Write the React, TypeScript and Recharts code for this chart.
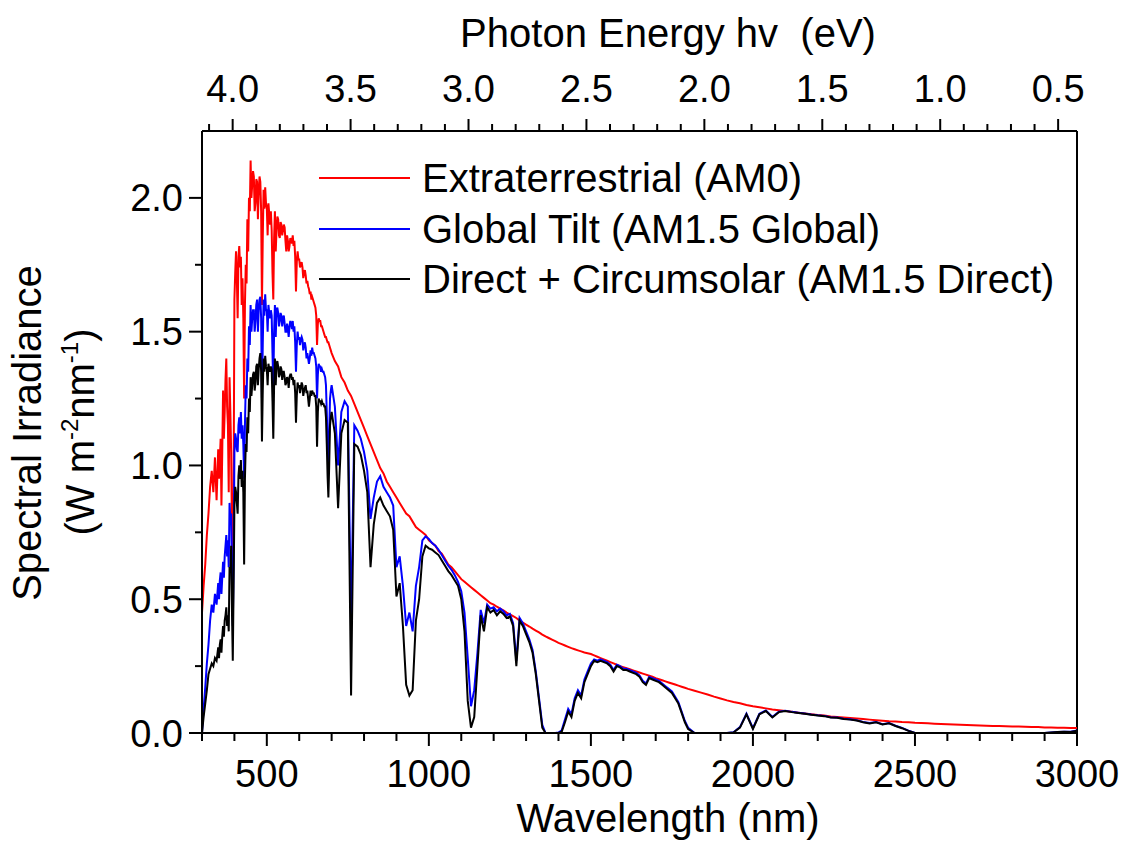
import { Legend, Line, LineChart, ReferenceLine, XAxis, YAxis } from 'recharts'

const FONT = "'Liberation Sans', Arial, Helvetica, sans-serif"

// wavelength grid (nm)
const wavelengths = [
  300, 305, 310, 315, 320, 325, 330, 335, 340, 345,
  350, 352.5, 355, 357.5, 360, 362.5, 365, 367.5, 370, 372.5,
  375, 377.5, 380, 382.5, 385, 387.5, 390, 392.5, 395, 397.5,
  400, 402.5, 405, 407.5, 410, 412.5, 415, 417.5, 420, 422.5,
  425, 427.5, 430, 432.5, 435, 437.5, 440, 442.5, 445, 447.5,
  450, 452.5, 455, 457.5, 460, 462.5, 465, 467.5, 470, 472.5,
  475, 477.5, 480, 482.5, 485, 487.5, 490, 492.5, 495, 497.5,
  500, 502.5, 505, 507.5, 510, 512.5, 515, 517.5, 520, 522.5,
  525, 527.5, 530, 532.5, 535, 537.5, 540, 542.5, 545, 547.5,
  550, 552.5, 555, 557.5, 560, 562.5, 565, 567.5, 570, 572.5,
  575, 577.5, 580, 582.5, 585, 587.5, 590, 592.5, 595, 597.5,
  600, 602.5, 605, 607.5, 610, 612.5, 615, 617.5, 620, 622.5,
  625, 627.5, 630, 632.5, 635, 637.5, 640, 642.5, 645, 647.5,
  650, 652.5, 655, 657.5, 660, 662.5, 665, 667.5, 670, 672.5,
  675, 677.5, 680, 682.5, 685, 687.5, 690, 692.5, 695, 697.5,
  700,
  710, 720, 730, 740, 750, 760, 770, 780, 790, 800,
  810, 820, 830, 840, 850, 860, 870, 880, 890, 900,
  910, 920, 930, 940, 950, 960, 970, 980, 990, 1000,
  1010, 1020, 1030, 1040, 1050, 1060, 1070, 1080, 1090, 1100,
  1110, 1120, 1130, 1140, 1150, 1160, 1170, 1180, 1190, 1200,
  1210, 1220, 1230, 1240, 1250, 1260, 1270, 1280, 1290, 1300,
  1310, 1320, 1330, 1340, 1350, 1360, 1370, 1380, 1390, 1400,
  1410, 1420, 1430, 1440, 1450, 1460, 1470, 1480, 1490, 1500,
  1510, 1520, 1530, 1540, 1550, 1560, 1570, 1580, 1590, 1600,
  1610, 1620, 1630, 1640, 1650, 1660, 1670, 1680, 1690, 1700,
  1710, 1720, 1730, 1740, 1750, 1760, 1770, 1780, 1790, 1800,
  1820, 1840, 1860, 1880, 1900, 1920, 1940, 1960, 1980, 2000,
  2020, 2040, 2060, 2080, 2100, 2120, 2140, 2160, 2180, 2200,
  2220, 2240, 2260, 2280, 2300, 2320, 2340, 2360, 2380, 2400,
  2420, 2440, 2460, 2480, 2500, 2520, 2540, 2560, 2580, 2600,
  2620, 2640, 2660, 2680, 2700, 2720, 2740, 2760, 2780, 2800,
  2820, 2840, 2860, 2880, 2900, 2920, 2940, 2960, 2980, 3000,
]

// Extraterrestrial (AM0)
const am0 = [
  0.45, 0.55, 0.63, 0.74, 0.82, 0.92, 0.98, 0.90, 1.03, 0.87,
  1.06, 0.95, 1.02, 1.10, 0.85, 1.05, 1.28, 1.10, 1.20, 1.32,
  1.40, 1.22, 1.15, 0.90, 1.33, 1.20, 1.05, 0.75, 0.65, 0.90,
  1.62, 1.72, 1.80, 1.70, 1.55, 1.78, 1.82, 1.74, 1.78, 1.60,
  1.70, 1.55, 1.25, 1.60, 1.75, 1.68, 1.92, 1.80, 2.00, 1.95,
  2.14, 2.00, 2.05, 2.10, 2.08, 1.95, 1.98, 2.07, 2.06, 1.92,
  2.02, 2.08, 2.06, 1.95, 1.60, 1.85, 2.03, 1.96, 2.04, 1.98,
  1.96, 1.86, 1.98, 1.94, 1.90, 1.95, 1.88, 1.72, 1.62, 1.85,
  1.95, 1.80, 1.88, 1.93, 1.92, 1.86, 1.85, 1.91, 1.90, 1.86,
  1.88, 1.90, 1.89, 1.84, 1.80, 1.86, 1.84, 1.80, 1.82, 1.85,
  1.84, 1.83, 1.86, 1.82, 1.84, 1.78, 1.65, 1.76, 1.80, 1.77,
  1.77, 1.74, 1.75, 1.76, 1.74, 1.70, 1.72, 1.73, 1.71, 1.68,
  1.69, 1.67, 1.66, 1.64, 1.65, 1.62, 1.63, 1.62, 1.61, 1.60,
  1.59, 1.56, 1.45, 1.53, 1.55, 1.54, 1.54, 1.52, 1.52, 1.51,
  1.50, 1.49, 1.48, 1.48, 1.47, 1.46, 1.46, 1.45, 1.44, 1.43,
  1.42,
  1.39, 1.37, 1.33, 1.31, 1.28, 1.26, 1.23, 1.20, 1.17, 1.14,
  1.11, 1.08, 1.05, 1.02, 0.99, 0.97, 0.94, 0.92, 0.90, 0.88,
  0.86, 0.84, 0.82, 0.81, 0.79, 0.77, 0.76, 0.75, 0.74, 0.72,
  0.71, 0.70, 0.68, 0.67, 0.65, 0.63, 0.62, 0.605, 0.59, 0.575,
  0.565, 0.555, 0.545, 0.535, 0.525, 0.515, 0.505, 0.495, 0.485, 0.48,
  0.472, 0.465, 0.458, 0.45, 0.443, 0.437, 0.43, 0.42, 0.413, 0.405,
  0.398, 0.39, 0.383, 0.376, 0.368, 0.361, 0.355, 0.349, 0.343, 0.337,
  0.332, 0.327, 0.322, 0.317, 0.313, 0.309, 0.305, 0.301, 0.298, 0.295,
  0.29, 0.285, 0.28, 0.275, 0.27, 0.265, 0.26, 0.255, 0.25, 0.246,
  0.242, 0.238, 0.234, 0.23, 0.226, 0.222, 0.218, 0.214, 0.21, 0.205,
  0.201, 0.197, 0.193, 0.189, 0.185, 0.181, 0.177, 0.173, 0.169, 0.165,
  0.158, 0.151, 0.144, 0.136, 0.129, 0.122, 0.116, 0.111, 0.105, 0.1,
  0.096, 0.092, 0.088, 0.085, 0.082, 0.079, 0.076, 0.073, 0.07, 0.067,
  0.065, 0.062, 0.06, 0.058, 0.056, 0.054, 0.052, 0.05, 0.048, 0.046,
  0.044, 0.043, 0.041, 0.04, 0.038, 0.037, 0.036, 0.035, 0.034, 0.033,
  0.032, 0.031, 0.03, 0.029, 0.028, 0.027, 0.026, 0.026, 0.025, 0.024,
  0.024, 0.023, 0.022, 0.022, 0.021, 0.021, 0.02, 0.02, 0.019, 0.019,
]

// Global Tilt (AM1.5 Global)
const globalTilt = [
  0, 0.09, 0.17, 0.26, 0.33, 0.42, 0.48, 0.45, 0.52, 0.48,
  0.56, 0.50, 0.57, 0.60, 0.52, 0.58, 0.64, 0.58, 0.66, 0.70,
  0.74, 0.66, 0.72, 0.62, 0.86, 0.80, 0.82, 0.55, 0.40, 0.62,
  1.05, 1.12, 1.10, 1.06, 1.05, 1.15, 1.18, 1.12, 1.20, 1.10,
  1.15, 1.08, 0.95, 1.15, 1.30, 1.25, 1.40, 1.35, 1.52, 1.45,
  1.60, 1.50, 1.55, 1.58, 1.58, 1.50, 1.54, 1.60, 1.62, 1.50,
  1.58, 1.62, 1.63, 1.55, 1.25, 1.45, 1.62, 1.56, 1.64, 1.58,
  1.58, 1.50, 1.60, 1.57, 1.55, 1.58, 1.56, 1.42, 1.30, 1.50,
  1.60, 1.48, 1.58, 1.59, 1.57, 1.52, 1.54, 1.57, 1.56, 1.52,
  1.55, 1.56, 1.53, 1.50, 1.50, 1.53, 1.51, 1.48, 1.52, 1.54,
  1.53, 1.51, 1.54, 1.50, 1.52, 1.46, 1.35, 1.45, 1.50, 1.47,
  1.48, 1.45, 1.47, 1.48, 1.47, 1.43, 1.45, 1.46, 1.44, 1.40,
  1.42, 1.40, 1.38, 1.40, 1.43, 1.41, 1.44, 1.42, 1.42, 1.41,
  1.40, 1.37, 1.25, 1.34, 1.38, 1.37, 1.37, 1.35, 1.36, 1.35,
  1.35, 1.34, 1.33, 1.30, 1.20, 1.08, 1.00, 1.12, 1.25, 1.28,
  1.30,
  1.22, 1.00, 1.20, 1.24, 1.22, 0.40, 1.15, 1.13, 1.10, 1.05,
  0.98, 0.80, 0.88, 0.94, 0.96, 0.92, 0.90, 0.88, 0.85, 0.62,
  0.66, 0.55, 0.40, 0.45, 0.38, 0.55, 0.62, 0.72, 0.735, 0.725,
  0.71, 0.70, 0.685, 0.665, 0.645, 0.625, 0.61, 0.59, 0.565, 0.53,
  0.45, 0.28, 0.10, 0.16, 0.30, 0.46, 0.41, 0.48, 0.465, 0.47,
  0.455, 0.465, 0.455, 0.44, 0.445, 0.41, 0.27, 0.43, 0.41, 0.38,
  0.35, 0.31, 0.23, 0.13, 0.03, 0, 0, 0, 0, 0.002,
  0.01, 0.05, 0.09, 0.07, 0.13, 0.16, 0.14, 0.20, 0.23, 0.26,
  0.275, 0.27, 0.275, 0.27, 0.265, 0.255, 0.235, 0.255, 0.25, 0.24,
  0.24, 0.235, 0.23, 0.225, 0.215, 0.195, 0.185, 0.21, 0.205, 0.20,
  0.195, 0.185, 0.175, 0.165, 0.155, 0.135, 0.115, 0.08, 0.045, 0.02,
  0, 0, 0, 0, 0, 0, 0.003, 0.022, 0.072, 0.018,
  0.072, 0.084, 0.06, 0.08, 0.083, 0.079, 0.076, 0.073, 0.069, 0.066,
  0.064, 0.059, 0.058, 0.053, 0.051, 0.048, 0.041, 0.037, 0.041, 0.033,
  0.037, 0.027, 0.019, 0.009, 0, 0, 0, 0, 0, 0,
  0, 0, 0, 0, 0, 0, 0, 0, 0, 0,
  0, 0, 0, 0, 0, 0.002, 0.004, 0.005, 0.005, 0.009,
]

// Direct + Circumsolar (AM1.5 Direct)
const directCircumsolar = [
  0, 0.06, 0.11, 0.16, 0.22, 0.24, 0.26, 0.25, 0.28, 0.27,
  0.32, 0.28, 0.33, 0.35, 0.30, 0.36, 0.40, 0.36, 0.42, 0.44,
  0.47, 0.40, 0.44, 0.38, 0.62, 0.60, 0.70, 0.45, 0.27, 0.55,
  0.85, 0.92, 0.90, 0.86, 0.82, 0.96, 1.00, 0.95, 1.02, 0.92,
  0.98, 0.90, 0.63, 0.95, 1.08, 1.05, 1.18, 1.12, 1.25, 1.20,
  1.33, 1.26, 1.30, 1.34, 1.35, 1.28, 1.31, 1.37, 1.38, 1.30,
  1.36, 1.40, 1.42, 1.35, 1.09, 1.28, 1.40, 1.35, 1.41, 1.37,
  1.36, 1.30, 1.38, 1.36, 1.35, 1.37, 1.36, 1.24, 1.10, 1.30,
  1.40, 1.30, 1.38, 1.39, 1.37, 1.33, 1.34, 1.37, 1.36, 1.32,
  1.35, 1.35, 1.33, 1.30, 1.31, 1.33, 1.32, 1.29, 1.33, 1.34,
  1.34, 1.32, 1.33, 1.30, 1.32, 1.27, 1.16, 1.26, 1.31, 1.29,
  1.30, 1.27, 1.29, 1.31, 1.30, 1.26, 1.28, 1.29, 1.30, 1.27,
  1.28, 1.25, 1.22, 1.25, 1.28, 1.26, 1.28, 1.27, 1.27, 1.26,
  1.26, 1.22, 1.07, 1.20, 1.25, 1.24, 1.24, 1.23, 1.24, 1.23,
  1.23, 1.22, 1.22, 1.18, 1.08, 0.96, 0.88, 1.00, 1.15, 1.18,
  1.20,
  1.12, 0.84, 1.12, 1.17, 1.16, 0.14, 1.08, 1.07, 1.04, 0.98,
  0.90, 0.62, 0.78, 0.86, 0.88, 0.85, 0.83, 0.81, 0.76, 0.51,
  0.56, 0.40, 0.18, 0.14, 0.16, 0.42, 0.50, 0.66, 0.70, 0.69,
  0.685, 0.675, 0.665, 0.645, 0.625, 0.605, 0.59, 0.57, 0.55, 0.50,
  0.38, 0.12, 0.02, 0.06, 0.25, 0.44, 0.38, 0.47, 0.45, 0.46,
  0.44, 0.455, 0.445, 0.43, 0.435, 0.40, 0.25, 0.42, 0.40, 0.37,
  0.34, 0.30, 0.22, 0.12, 0.02, 0, 0, 0, 0, 0,
  0.005, 0.04, 0.08, 0.06, 0.12, 0.15, 0.13, 0.19, 0.22, 0.25,
  0.27, 0.265, 0.27, 0.265, 0.26, 0.25, 0.23, 0.25, 0.245, 0.235,
  0.235, 0.23, 0.225, 0.22, 0.21, 0.19, 0.18, 0.205, 0.20, 0.195,
  0.19, 0.18, 0.17, 0.16, 0.15, 0.13, 0.11, 0.075, 0.04, 0.015,
  0, 0, 0, 0, 0, 0, 0.002, 0.02, 0.07, 0.015,
  0.07, 0.082, 0.058, 0.078, 0.082, 0.078, 0.075, 0.072, 0.068, 0.065,
  0.063, 0.058, 0.057, 0.052, 0.05, 0.047, 0.04, 0.036, 0.04, 0.032,
  0.036, 0.026, 0.018, 0.008, 0, 0, 0, 0, 0, 0,
  0, 0, 0, 0, 0, 0, 0, 0, 0, 0,
  0, 0, 0, 0, 0, 0.002, 0.004, 0.005, 0.004, 0.008,
]

const seriesNames = [
  'Extraterrestrial (AM0)',
  'Global Tilt (AM1.5 Global)',
  'Direct + Circumsolar (AM1.5 Direct)',
]

// axis ticks
const nmTicks = [
  300, 400, 500, 600, 700, 800, 900, 1000, 1100, 1200, 1300, 1400, 1500, 1600,
  1700, 1800, 1900, 2000, 2100, 2200, 2300, 2400, 2500, 2600, 2700, 2800, 2900, 3000,
]
const nmLabels = [500, 1000, 1500, 2000, 2500, 3000]
const evTicks = [
  4.1, 4.0, 3.9, 3.8, 3.7, 3.6, 3.5, 3.4, 3.3, 3.2, 3.1, 3.0, 2.9, 2.8, 2.7, 2.6, 2.5, 2.4, 2.3,
  2.2, 2.1, 2.0, 1.9, 1.8, 1.7, 1.6, 1.5, 1.4, 1.3, 1.2, 1.1, 1.0, 0.9, 0.8, 0.7, 0.6, 0.5,
]
const evLabels = [4.0, 3.5, 3.0, 2.5, 2.0, 1.5, 1.0, 0.5]
const irrTicks = [0, 0.25, 0.5, 0.75, 1.0, 1.25, 1.5, 1.75, 2.0]
const irrLabels = [0, 0.5, 1.0, 1.5, 2.0]

// the top energy scale runs linearly from 4.13 eV (left edge) to 0.42 eV (right edge)
const NM_MIN = 300
const NM_MAX = 3000
const EV_LEFT = 4.13
const EV_RIGHT = 0.42
const evTickPositions = evTicks.map(
  (ev) => NM_MIN + ((EV_LEFT - ev) / (EV_LEFT - EV_RIGHT)) * (NM_MAX - NM_MIN),
)

const data = wavelengths.map((nm, i) => ({
  nm,
  am0: am0[i],
  global: globalTilt[i],
  direct: directCircumsolar[i],
}))

const textStyle = { fontFamily: FONT, fill: '#000' }

function NmTick({ x, y, payload }: any) {
  const major = nmLabels.includes(payload.value)
  return (
    <g>
      <line x1={x} x2={x} y1={y} y2={y + (major ? 13 : 8)} stroke="#000" strokeWidth={2} />
      {major && (
        <text x={x} y={y + 54} textAnchor="middle" fontSize={38} {...textStyle}>
          {payload.value}
        </text>
      )}
    </g>
  )
}

function EvTick({ x, y, index }: any) {
  const ev = evTicks[index]
  const major = evLabels.includes(ev)
  return (
    <g>
      <line x1={x} x2={x} y1={y} y2={y - (major ? 12 : 7)} stroke="#000" strokeWidth={2} />
      {major && (
        <text x={x} y={y - 29} textAnchor="middle" fontSize={38} {...textStyle}>
          {ev.toFixed(1)}
        </text>
      )}
    </g>
  )
}

function IrrTick({ x, y, payload }: any) {
  const major = irrLabels.includes(payload.value)
  return (
    <g>
      <line x1={x} x2={x - (major ? 13 : 7)} y1={y} y2={y} stroke="#000" strokeWidth={2} />
      {major && (
        <text x={x - 19} y={y + 13.5} textAnchor="end" fontSize={38} {...textStyle}>
          {payload.value.toFixed(1)}
        </text>
      )}
    </g>
  )
}

const WavelengthTitle = () => (
  <text x={668} y={832} textAnchor="middle" fontSize={40} {...textStyle}>
    Wavelength (nm)
  </text>
)

const EnergyTitle = () => (
  <text x={668} y={47} textAnchor="middle" fontSize={40} {...textStyle}>
    Photon Energy hv{'\u00A0 '}(eV)
  </text>
)

const IrradianceTitle = () => (
  <g>
    <text x={41} y={433} transform="rotate(-90, 41, 433)" textAnchor="middle" fontSize={40} {...textStyle}>
      Spectral Irradiance
    </text>
    <text x={94} y={432} transform="rotate(-90, 94, 432)" textAnchor="middle" fontSize={40} {...textStyle}>
      (W m<tspan fontSize={24} dy={-16}>-2</tspan>
      <tspan dy={16}>nm</tspan>
      <tspan fontSize={24} dy={-16}>-1</tspan>
      <tspan dy={16}>)</tspan>
    </text>
  </g>
)

function SpectraLegend({ payload }: any) {
  const items = [...(payload || [])].sort(
    (a: any, b: any) => seriesNames.indexOf(a.value) - seriesNames.indexOf(b.value),
  )
  return (
    <div style={{ position: 'absolute', left: 319, top: 153, fontFamily: FONT, fontSize: 40, color: '#000' }}>
      {items.map((item: any) => (
        <div key={item.value} style={{ display: 'flex', alignItems: 'center', height: 50.5 }}>
          <svg width={91} height={4} style={{ display: 'block' }}>
            <line x1={0} x2={91} y1={2} y2={2} stroke={item.color} strokeWidth={2} />
          </svg>
          <span style={{ marginLeft: 12, lineHeight: '50px', whiteSpace: 'nowrap' }}>{item.value}</span>
        </div>
      ))}
    </div>
  )
}

export default function App() {
  const axisLine = { stroke: '#000', strokeWidth: 2 }
  return (
    <div style={{ position: 'absolute', left: 0, top: 0, background: '#fff' }}>
      <LineChart
        width={1128}
        height={843}
        data={data}
        margin={{ top: 61, right: 51, bottom: 10, left: 0 }}
      >
        <XAxis
          xAxisId="nm"
          dataKey="nm"
          type="number"
          domain={[NM_MIN, NM_MAX]}
          allowDataOverflow
          ticks={nmTicks}
          interval={0}
          tick={(p: any) => <NmTick {...p} />}
          tickLine={false}
          tickSize={0}
          tickMargin={0}
          height={100}
          axisLine={axisLine}
          label={<WavelengthTitle />}
        />
        <XAxis
          xAxisId="ev"
          dataKey="nm"
          orientation="top"
          type="number"
          domain={[NM_MIN, NM_MAX]}
          allowDataOverflow
          ticks={evTickPositions}
          interval={0}
          tick={(p: any) => <EvTick {...p} />}
          tickLine={false}
          tickSize={0}
          tickMargin={0}
          height={70}
          axisLine={axisLine}
          label={<EnergyTitle />}
        />
        <YAxis
          type="number"
          domain={[0, 2.25]}
          allowDataOverflow
          ticks={irrTicks}
          interval={0}
          tick={(p: any) => <IrrTick {...p} />}
          tickLine={false}
          tickSize={0}
          tickMargin={0}
          width={202}
          axisLine={axisLine}
          label={<IrradianceTitle />}
        />
        <ReferenceLine xAxisId="nm" x={NM_MAX} stroke="#000" strokeWidth={2} />
        <Legend
          content={(p: any) => <SpectraLegend {...p} />}
          wrapperStyle={{ left: 0, top: 0, bottom: 'auto', width: 0, height: 0 }}
        />
        <Line
          xAxisId="nm"
          type="linear"
          dataKey="am0"
          name={seriesNames[0]}
          stroke="#ff0000"
          strokeWidth={2}
          dot={false}
          isAnimationActive={false}
        />
        <Line
          xAxisId="nm"
          type="linear"
          dataKey="global"
          name={seriesNames[1]}
          stroke="#0000ff"
          strokeWidth={2}
          dot={false}
          isAnimationActive={false}
        />
        <Line
          xAxisId="nm"
          type="linear"
          dataKey="direct"
          name={seriesNames[2]}
          stroke="#000000"
          strokeWidth={2}
          dot={false}
          isAnimationActive={false}
        />
      </LineChart>
    </div>
  )
}
